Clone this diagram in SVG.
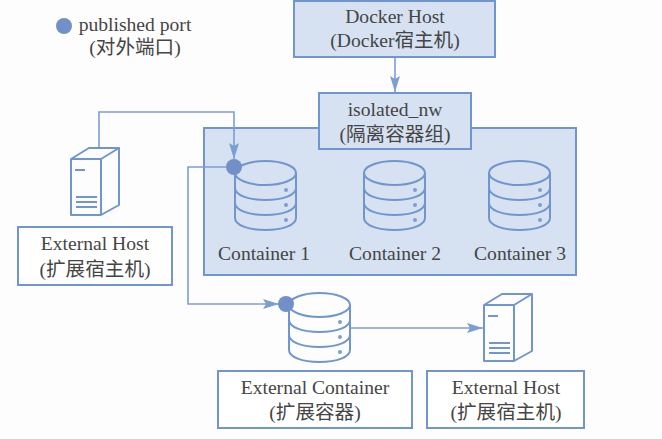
<svg xmlns="http://www.w3.org/2000/svg" width="662" height="439" viewBox="0 0 662 439">
<style>
.b{fill:#fff;stroke:#7196cd;stroke-width:2}
.f{fill:#d6e1f1;stroke:#7196cd;stroke-width:2}
.s{fill:none;stroke:#7196cd;stroke-width:2;stroke-linejoin:round}
.l{fill:none;stroke:#7c9ed2;stroke-width:1.6}
.d{fill:#7190c9}
.m{fill:#7c9ed2}
text{font-family:"Liberation Serif","Noto Sans CJK SC",serif;font-size:19.6px;fill:#454545;text-anchor:middle}
</style>
<defs>
<marker id="a" markerUnits="userSpaceOnUse" markerWidth="18" markerHeight="12" refX="16" refY="6" orient="auto"><path d="M0 1L16 6L0 11L3 6Z" fill="#7c9ed2"/></marker>
<g id="cyl">
<path class="s" d="M0 0V45C0 52 13 57 30.500 57S61 52 61 45V0"/>
<ellipse class="s" cx="30.500" cy="0" rx="30.500" ry="12"/>
<path class="s" d="M0 15C0 22 13 27 30.500 27S61 22 61 15M0 30C0 37 13 42 30.500 42S61 37 61 30"/>
<circle class="m" cx="51" cy="17" r="2"/><circle class="m" cx="51" cy="32" r="2"/><circle class="m" cx="51" cy="47" r="2"/>
</g>
<g id="srv">
<path class="s" d="M0 11H30V67H0ZM0 11L18 0H48L30 11M48 0V57L30 67"/>
<path class="s" d="M4 22H14M5 49H26M5 54H26M5 59H26" stroke-width="1.500"/>
</g>
</defs>
<rect width="662" height="439" fill="#fdfdfd"/>
<g id="legend"><circle class="d" cx="64" cy="26" r="8"/><text x="135" y="31">published port</text><text x="135" y="54">(对外端口)</text></g>
<g id="group"><rect class="f" x="204" y="128" width="372" height="147"/></g>
<g id="docker-host"><rect class="f" x="294" y="1" width="201" height="56"/><text x="395" y="23">Docker Host</text><text x="395" y="47">(Docker宿主机)</text></g>
<g id="isolated-nw"><rect class="f" x="319" y="93" width="152" height="56"/><text x="395" y="116">isolated_nw</text><text x="395" y="141">(隔离容器组)</text></g>
<g id="connectors">
<path class="l" d="M395 58V92" marker-end="url(#a)"/>
<path class="l" d="M99 147V112H234V159" marker-end="url(#a)"/>
<path class="l" d="M226 167H188V304H279" marker-end="url(#a)"/>
<path class="l" d="M351 328H483" marker-end="url(#a)"/>
</g>
<g id="container-1"><use href="#cyl" x="235" y="173"/><circle class="d" cx="234" cy="167" r="8"/><text x="264" y="260">Container 1</text></g>
<g id="container-2"><use href="#cyl" x="364" y="173"/><text x="395" y="260">Container 2</text></g>
<g id="container-3"><use href="#cyl" x="489" y="173"/><text x="520" y="260">Container 3</text></g>
<g id="external-host-left"><use href="#srv" x="71" y="148"/><rect class="b" x="18" y="227" width="154" height="58"/><text x="95" y="250">External Host</text><text x="95" y="276">(扩展宿主机)</text></g>
<g id="external-container"><use href="#cyl" x="289" y="305"/><circle class="d" cx="286" cy="304" r="8"/><rect class="b" x="218" y="371" width="194" height="57"/><text x="315" y="394">External Container</text><text x="315" y="419">(扩展容器)</text></g>
<g id="external-host-right"><use href="#srv" x="484" y="294"/><rect class="b" x="427" y="371" width="157" height="57"/><text x="506" y="394">External Host</text><text x="506" y="419">(扩展宿主机)</text></g>
</svg>
